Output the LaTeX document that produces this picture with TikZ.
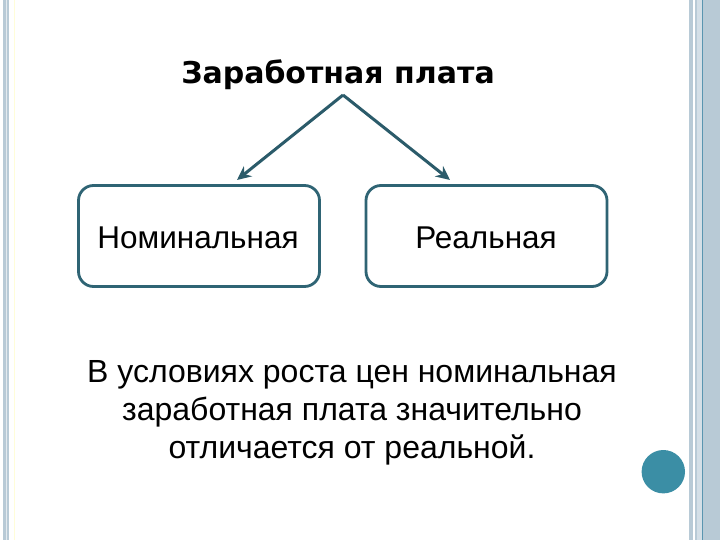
\documentclass[tikz,border=0pt]{standalone}
\usepackage{fontspec}
\setmainfont{Liberation Sans}
\newfontfamily\titlefont{DejaVu Sans}
\usetikzlibrary{arrows.meta}
\definecolor{stripe}{HTML}{B8CAD6}
\definecolor{stripedark}{HTML}{5A95B0}
\definecolor{boxline}{HTML}{2F6474}
\definecolor{arrowcol}{HTML}{2B5B6A}
\definecolor{dotcol}{HTML}{3B8EA5}
\tikzset{
  kindbox/.style={draw=boxline, line width=2.8pt, rounded corners=15pt, minimum width=241pt, minimum height=101pt, fill=white, inner sep=0pt},
  link/.style={draw=arrowcol, line width=3pt, -{Stealth[length=14pt,width=13pt]}},
  bodytext/.style={font=\fontsize{32}{38}\selectfont, anchor=base, inner sep=0pt}
}
\begin{document}
\begin{tikzpicture}[x=1pt,y=-1pt]
\useasboundingbox (0,0) rectangle (720,540);
\fill[white] (0,0) rectangle (720,540);
% left border
\fill[stripe] (2.7,0) rectangle (9.3,540);
\fill[white!60!stripe] (5.5,0) rectangle (6.5,540);
\fill[yellow!15] (13.5,0) rectangle (14.7,540);
% right border
\fill[stripe] (689.3,0) rectangle (692.7,540);
\fill[stripe] (695.3,0) rectangle (720,540);
\fill[white!40!stripe] (697.3,0) rectangle (701.8,540);
\fill[stripedark] (701.8,0) rectangle (703.3,540);
% dot
\fill[dotcol] (663.3,471.7) circle (21.7);
% title
\node[anchor=base, inner sep=0pt, font=\titlefont\bfseries\fontsize{30}{34}\selectfont] (title) at (338,84) {Заработная плата};
\coordinate (apex) at (343,95);
% boxes
\node[kindbox] (nom) at (199,236) {};
\node[kindbox] (real) at (486.5,236) {};
\node[anchor=base, inner sep=0pt, font=\fontsize{31.5}{36}\selectfont] (nomt) at (198,248) {Номинальная};
\node[anchor=base, inner sep=0pt, font=\fontsize{31.5}{36}\selectfont] (realt) at (486,248) {Реальная};
% arrows
\draw[link] (apex) -- (237,180);
\draw[link] (apex) -- (450,180);
% bottom text
\node[bodytext] (line1) at (352,382) {В условиях роста цен номинальная};
\node[bodytext] (line2) at (352,420) {заработная плата значительно};
\node[bodytext] (line3) at (352,458) {отличается от реальной.};
\end{tikzpicture}
\end{document}
